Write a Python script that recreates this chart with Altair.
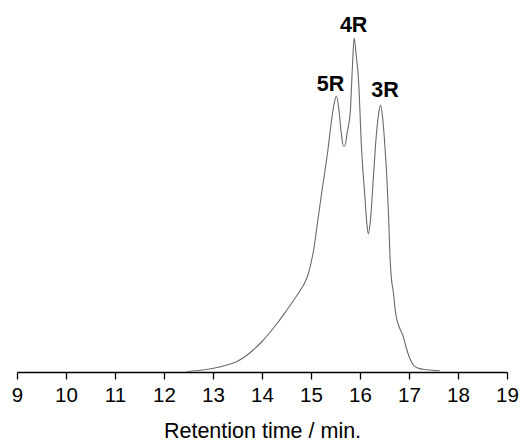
import altair as alt
import pandas as pd

# Chromatogram trace (retention time in min, detector response in arbitrary units)
rt = [12.46, 12.75, 13.01, 13.25, 13.48, 13.65, 13.82, 14.0, 14.16, 14.33, 14.50,
      14.65, 14.78, 14.88, 14.95, 15.0, 15.05, 15.14, 15.22, 15.30, 15.35, 15.42,
      15.47, 15.52, 15.57, 15.62, 15.66, 15.69, 15.74, 15.80, 15.85, 15.88, 15.92,
      15.97, 16.03, 16.10, 16.14, 16.17, 16.21, 16.27, 16.33, 16.38, 16.42, 16.46,
      16.51, 16.55, 16.58, 16.61, 16.64, 16.68, 16.73, 16.8, 16.88, 16.94, 16.99,
      17.04, 17.09, 17.18, 17.29, 17.63]
signal = [0.5, 1.8, 3.7, 6.5, 10.3, 15.2, 22, 30.5, 39.5, 50, 61.5,
          72, 81.5, 90, 99, 109, 121, 152, 180, 206, 224, 252,
          268, 276, 262, 238, 226, 226, 240, 259, 310, 334, 318,
          292, 225, 175, 148, 138, 150, 192, 235, 258, 267, 255,
          225, 192, 160, 118, 94, 80, 58, 45, 36, 25, 17,
          11, 7, 4, 2.7, 1.3]

# Peak annotations
peak_names = ["5R", "4R", "3R"]
peak_label_x = [15.40, 15.87, 16.51]
peak_label_y = [281.3, 340.3, 275.3]

x_ticks = list(range(9, 20))

trace = pd.DataFrame({"rt": rt, "signal": signal})
labels = pd.DataFrame({"name": peak_names, "rt": peak_label_x, "signal": peak_label_y})

FONT = "Liberation Sans"

xscale = alt.Scale(domain=[9, 19], nice=False, zero=False)
yscale = alt.Scale(domain=[0, 352], nice=False, zero=True)

line = alt.Chart(trace).mark_line(
    color="#6a6a6a", strokeWidth=1.1, interpolate="monotone"
).encode(
    x=alt.X("rt:Q", scale=xscale, axis=alt.Axis(
        values=x_ticks, format="d", title="Retention time / min.",
        domainColor="black", domainWidth=1.3, tickColor="black", tickWidth=1.3,
        tickSize=7, labelFont=FONT, labelFontSize=20.5, labelColor="black",
        labelPadding=6, titleFont=FONT, titleFontSize=21.5, titleFontWeight="normal",
        titleColor="black", titleBaseline="alphabetic", titleY=65, grid=False,
        labelFlush=False)),
    y=alt.Y("signal:Q", scale=yscale, axis=None),
)

text = alt.Chart(labels).mark_text(
    font=FONT, fontSize=21.5, fontWeight="bold", color="black",
    baseline="alphabetic", align="center"
).encode(
    x=alt.X("rt:Q", scale=xscale),
    y=alt.Y("signal:Q", scale=yscale),
    text="name:N",
)

chart = (line + text).properties(
    width=490, height=352,
    autosize=alt.AutoSizeParams(type="none"),
    padding={"left": 17, "top": 20, "right": 22, "bottom": 71},
    background="white",
).configure_view(stroke=None)

chart.save("out.html", embed_options={"renderer": "svg", "actions": False})
